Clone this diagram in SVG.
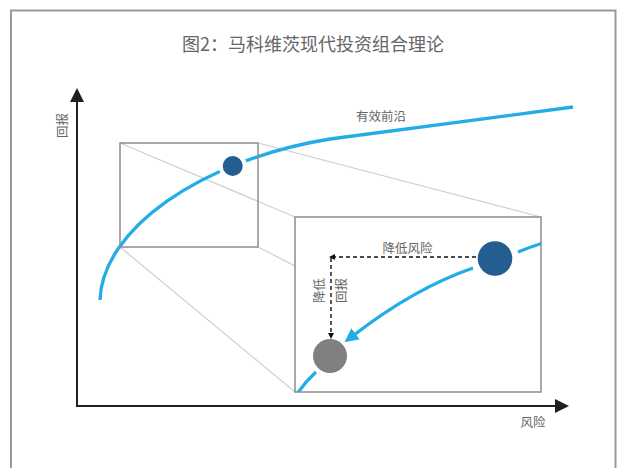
<svg xmlns="http://www.w3.org/2000/svg" width="621" height="468" viewBox="0 0 621 468">
<style>
  text { font-family: "Noto Sans CJK SC", "Noto Sans", sans-serif; fill: #666; }
  .title { font-size: 18px; }
  .lbl { font-size: 12.5px; }
  .box { fill: none; stroke: #8c8c8c; stroke-width: 1.5; }
  .zoomline { stroke: #cfcfcf; stroke-width: 1.2; fill: none; }
  .frontier { fill: none; stroke: #22ade6; stroke-width: 3.3; stroke-linecap: butt; }
  .axis { stroke: #231f20; stroke-width: 2; fill: none; }
  .dash { stroke: #111; stroke-width: 1.4; stroke-dasharray: 4 3; fill: none; }
</style>
<defs>
  <marker id="axisHead" markerUnits="userSpaceOnUse" markerWidth="14" markerHeight="14" viewBox="0 0 14 14" refX="1" refY="7" orient="auto">
    <path d="M0,0 L14,7 L0,14 Z" fill="#231f20"/>
  </marker>
  <marker id="blueHead" markerUnits="userSpaceOnUse" markerWidth="14" markerHeight="14" viewBox="0 0 14 14" refX="2" refY="7" orient="auto">
    <path d="M0,0 L14,7 L0,14 Z" fill="#22ade6"/>
  </marker>
  <marker id="dashHead" markerUnits="userSpaceOnUse" markerWidth="6" markerHeight="6" viewBox="0 0 6 6" refX="1" refY="3" orient="auto">
    <path d="M0,0 L6,3 L0,6 Z" fill="#111"/>
  </marker>
  <clipPath id="bigClip"><rect x="295" y="217" width="246" height="175"/></clipPath>
</defs>

<rect x="0" y="0" width="621" height="468" fill="#fff"/>
<g id="frame">
  <rect x="11" y="10.5" width="604.5" height="470" fill="none" stroke="#999" stroke-width="2"/>
</g>
<g id="title">
  <text class="title" x="313" y="51" text-anchor="middle">图2：马科维茨现代投资组合理论</text>
</g>

<g id="connectors">
  <line class="zoomline" x1="120" y1="143" x2="295" y2="217"/>
  <line class="zoomline" x1="258" y1="143" x2="541" y2="217"/>
  <line class="zoomline" x1="120" y1="247" x2="295" y2="392"/>
  <line class="zoomline" x1="258" y1="247" x2="541" y2="392"/>
</g>

<g id="axes">
  <line class="axis" x1="77" y1="407" x2="77" y2="101" marker-end="url(#axisHead)"/>
  <line class="axis" x1="76" y1="406" x2="556" y2="406" marker-end="url(#axisHead)"/>
  <text class="lbl" transform="translate(66.5,125.5) rotate(-90)" text-anchor="middle">回报</text>
  <text class="lbl" x="533" y="427" text-anchor="middle">风险</text>
</g>

<g id="frontier">
  <path class="frontier" d="M100,300 C102,230 200,160 330,139 L573,107"/>
  <text class="lbl" x="381" y="121" text-anchor="middle">有效前沿</text>
</g>

<g id="small-box">
  <rect class="box" x="120" y="143" width="138" height="104"/>
</g>

<g id="portfolio-dot">
  <circle cx="232.7" cy="166" r="10" fill="#245d8f" stroke="#fff" stroke-width="8" paint-order="stroke"/>
</g>

<g id="zoom-box">
  <rect x="295" y="217" width="246" height="175" fill="#fff" stroke="#8c8c8c" stroke-width="1.5"/>
  <g clip-path="url(#bigClip)">
    <path class="frontier" d="M297,394 Q305,382 316,372" stroke-width="4"/>
    <path class="frontier" d="M518,252 Q530,247 543,243" stroke-width="4"/>
  </g>
</g>

<g id="high-dot">
  <circle cx="495" cy="258.5" r="17.3" fill="#245d8f"/>
</g>
<g id="low-dot">
  <circle cx="330" cy="356" r="17" fill="#808083"/>
</g>

<g id="move-arrows">
  <path class="frontier" d="M473,268 Q415,288 354,335" stroke-width="4" marker-end="url(#blueHead)"/>
  <line class="dash" x1="476" y1="257" x2="334" y2="257" marker-end="url(#dashHead)"/>
  <line class="dash" x1="331" y1="258" x2="331" y2="334" marker-end="url(#dashHead)"/>
</g>

<g id="labels-inner">
  <text class="lbl" x="407.5" y="253" text-anchor="middle">降低风险</text>
  <text class="lbl" transform="translate(323.5,290.5) rotate(-90)" text-anchor="middle">降低</text>
  <text class="lbl" transform="translate(345.5,290.5) rotate(-90)" text-anchor="middle">回报</text>
</g>
</svg>
